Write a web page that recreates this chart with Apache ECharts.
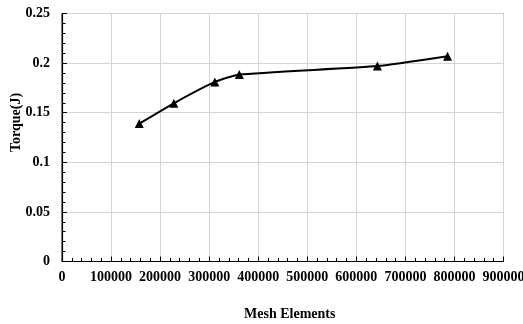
<!DOCTYPE html>
<html>
<head>
<meta charset="utf-8">
<script src="https://cdn.jsdelivr.net/npm/echarts@6/dist/echarts.min.js"></script>
<style>
  html, body { margin: 0; padding: 0; background: #fff; }
  #chart { width: 523px; height: 324px; }
</style>
</head>
<body>
<div id="chart"></div>
<script>
// Mesh independence study: torque versus number of mesh elements
const meshElements = [157500, 228000, 311500, 361500, 643000, 786000];
const torque = [0.139, 0.1595, 0.181, 0.1885, 0.197, 0.207];
const xTicks = { min: 0, max: 900000, interval: 100000 };
const yTicks = { min: 0, max: 0.25, interval: 0.05 };

const font = 'Liberation Serif, Times New Roman, serif';
const chart = echarts.init(document.getElementById('chart'), null, { renderer: 'canvas' });

chart.setOption({
  animation: false,
  backgroundColor: '#ffffff',
  grid: {
    left: 62, right: 19.5, top: 13.5, bottom: 62.5,
    outerBoundsMode: 'none',
    containLabel: false,
    show: true, borderColor: '#000', borderWidth: 1, backgroundColor: 'transparent'
  },
  xAxis: {
    type: 'value',
    min: xTicks.min, max: xTicks.max, interval: xTicks.interval,
    name: 'Mesh Elements',
    nameLocation: 'middle',
    nameGap: 46,
    nameMoveOverlap: false,
    nameTextStyle: { fontFamily: font, fontWeight: 'bold', fontSize: 14, color: '#000', padding: [0, 0, 0, 14] },
    axisLine: { show: true, lineStyle: { color: '#000', width: 1.2 } },
    axisTick: { show: true, inside: true, length: 5, lineStyle: { color: '#000' } },
    minorTick: { show: true, splitNumber: 5, length: 3.5, lineStyle: { color: '#000' } },
    splitLine: { show: true, lineStyle: { color: '#d4d4d4', width: 1 } },
    axisLabel: {
      fontFamily: font, fontWeight: 'bold', fontSize: 14, color: '#000', margin: 9,
      hideOverlap: false,
      formatter: v => String(v)
    }
  },
  yAxis: {
    type: 'value',
    min: yTicks.min, max: yTicks.max, interval: yTicks.interval,
    name: 'Torque(J)',
    nameLocation: 'middle',
    nameRotate: 90,
    nameGap: 39,
    nameMoveOverlap: false,
    nameTextStyle: { fontFamily: font, fontWeight: 'bold', fontSize: 14, color: '#000', padding: [0, 0, 0, 30] },
    axisLine: { show: true, lineStyle: { color: '#000', width: 1.2 } },
    axisTick: { show: true, inside: true, length: 5, lineStyle: { color: '#000' } },
    minorTick: { show: true, splitNumber: 5, length: 3.5, lineStyle: { color: '#000' } },
    splitLine: { show: true, lineStyle: { color: '#d4d4d4', width: 1 } },
    axisLabel: { fontFamily: font, fontWeight: 'bold', fontSize: 14, color: '#000', margin: 12 }
  },
  series: [{
    type: 'line',
    data: meshElements.map((x, i) => [x, torque[i]]),
    smooth: 0.15,
    symbol: 'triangle',
    symbolSize: 9,
    itemStyle: { color: '#000' },
    lineStyle: { color: '#000', width: 2 }
  }]
});
</script>
</body>
</html>
